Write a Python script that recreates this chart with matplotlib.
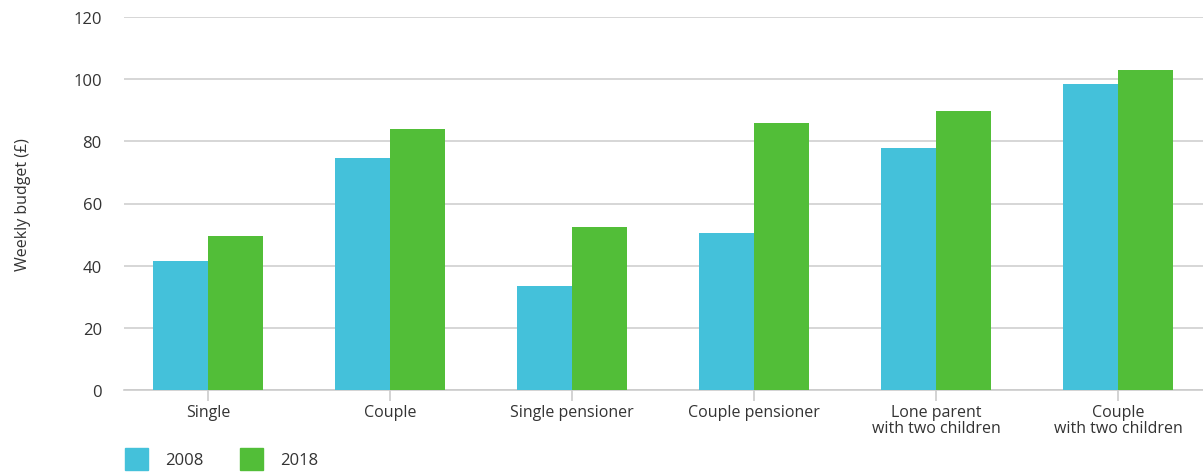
import numpy as np
import matplotlib.pyplot as plt
from matplotlib.patches import Patch

plt.rcParams['font.family'] = ['Open Sans', 'DejaVu Sans']

# Data
categories = ['Single', 'Couple', 'Single pensioner', 'Couple pensioner',
              'Lone parent\nwith two children', 'Couple\nwith two children']
budget_2008 = [41.5, 74.7, 33.5, 50.5, 78.0, 98.3]
budget_2018 = [49.5, 84.0, 52.4, 86.0, 89.9, 103.1]

c2008 = '#44C1DA'
c2018 = '#52BE38'
text_col = '#333333'

fig = plt.figure(figsize=(12.03, 4.77), dpi=100)
ax = fig.add_axes([124 / 1203, 86 / 477, 1 - 124 / 1203, 373 / 477])

x = np.arange(len(categories))
w = 55 / 182
ax.bar(x - w / 2, budget_2008, width=w, color=c2008, zorder=3)
ax.bar(x + w / 2, budget_2018, width=w, color=c2018, zorder=3)

ax.set_xlim(-84 / 182, 995 / 182)
ax.set_ylim(0, 120)
ax.set_yticks(range(0, 121, 20))
ax.grid(axis='y', color='#d0d0d0', linewidth=1.2, zorder=0)

for s in ['top', 'right', 'left']:
    ax.spines[s].set_visible(False)
ax.spines['bottom'].set_color('#cccccc')
ax.spines['bottom'].set_linewidth(1.2)

ax.set_xticks(x)
ax.set_xticklabels(categories, fontsize=11.5, color=text_col, linespacing=1.0)
ax.tick_params(axis='x', length=8, color='#cccccc', width=1.2, pad=2)
ax.tick_params(axis='y', length=0, pad=16, labelsize=12, labelcolor=text_col)

ax.set_ylabel('Weekly budget (£)', fontsize=11.5, color=text_col, labelpad=30)

handles = [Patch(color=c2008, label='2008'), Patch(color=c2018, label='2018')]
fig.legend(handles=handles, loc='lower left', bbox_to_anchor=(110 / 1203, -9 / 477),
           ncol=2, frameon=False, fontsize=12, handlelength=1.4, handleheight=1.65,
           handletextpad=1.0, columnspacing=2.2, labelcolor=text_col)

fig.savefig('out.png', dpi=100)
